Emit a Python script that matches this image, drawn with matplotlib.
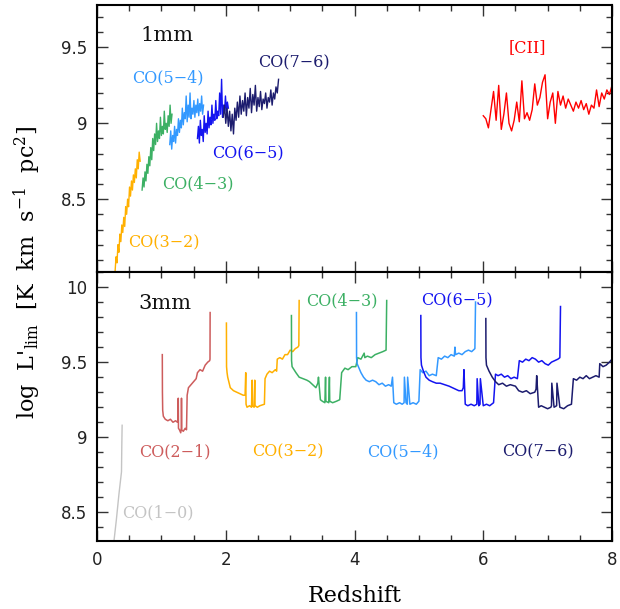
import matplotlib
matplotlib.use("Agg")
import matplotlib.pyplot as plt
from matplotlib.ticker import MultipleLocator, FormatStrFormatter

plt.rcParams['font.family'] = ['DejaVu Serif']
plt.rcParams['mathtext.fontset'] = 'dejavuserif'

# colours per transition
c_co10 = '#c4c4c4'
c_co21 = '#cd5c5c'
c_co32 = '#ffb000'
c_co43 = '#3cb064'
c_co54 = '#3399ff'
c_co65 = '#1414f0'
c_co76 = '#1c1c6e'
c_cii = '#ff0000'

# ---------------- 1mm panel (top) ----------------
mm1_co32_z = [0.28, 0.295, 0.31, 0.325, 0.34, 0.355, 0.37, 0.385, 0.40, 0.415, 0.43, 0.445, 0.46, 0.475,
              0.49, 0.505, 0.52, 0.535, 0.55, 0.565, 0.58, 0.595, 0.61, 0.625, 0.64, 0.655, 0.67]
mm1_co32_L = [8.02, 8.12, 8.08, 8.20, 8.15, 8.27, 8.22, 8.33, 8.28, 8.38, 8.32, 8.45, 8.40, 8.50,
              8.45, 8.58, 8.52, 8.62, 8.56, 8.66, 8.61, 8.70, 8.64, 8.76, 8.70, 8.81, 8.75]

mm1_co43_z = [0.70, 0.715, 0.73, 0.745, 0.76, 0.775, 0.79, 0.805, 0.82, 0.835, 0.85, 0.865, 0.88, 0.895,
              0.91, 0.925, 0.94, 0.955, 0.97, 0.985, 1.00, 1.015, 1.03, 1.045, 1.06, 1.075, 1.09, 1.105,
              1.12, 1.135, 1.15, 1.165]
mm1_co43_L = [8.56, 8.64, 8.58, 8.68, 8.62, 8.73, 8.67, 8.78, 8.72, 8.84, 8.76, 8.90, 8.82, 8.93,
              8.86, 9.00, 8.88, 8.95, 8.90, 9.04, 8.92, 8.98, 8.93, 9.08, 8.96, 9.00, 8.94, 9.05,
              8.98, 9.12, 9.00, 9.06]

mm1_co54_z = [1.13, 1.145, 1.16, 1.175, 1.19, 1.205, 1.22, 1.235, 1.25, 1.265, 1.28, 1.295, 1.31, 1.325,
              1.34, 1.355, 1.37, 1.385, 1.40, 1.415, 1.43, 1.445, 1.46, 1.475, 1.49, 1.505, 1.52, 1.535,
              1.55, 1.565, 1.58, 1.595, 1.61, 1.625, 1.64, 1.655]
mm1_co54_L = [8.86, 8.95, 8.83, 8.92, 8.88, 8.98, 8.87, 8.96, 8.92, 9.03, 8.94, 9.02, 8.97, 9.10,
              8.99, 9.07, 9.03, 9.18, 9.01, 9.12, 9.04, 9.20, 9.03, 9.10, 9.06, 9.15, 9.04, 9.12,
              9.07, 9.16, 9.05, 9.13, 9.08, 9.18, 9.06, 9.12]

mm1_co65_z = [1.56, 1.575, 1.59, 1.605, 1.62, 1.635, 1.65, 1.665, 1.68, 1.695, 1.71, 1.725, 1.74, 1.755,
              1.77, 1.785, 1.80, 1.815, 1.83, 1.845, 1.86, 1.875, 1.89, 1.905, 1.92, 1.935, 1.95, 1.965,
              1.98, 1.995, 2.01, 2.025, 2.04]
mm1_co65_L = [8.90, 8.98, 8.87, 9.02, 8.92, 8.96, 8.88, 9.05, 8.94, 9.00, 8.93, 9.08, 8.97, 9.04,
              8.99, 9.12, 9.00, 9.06, 9.02, 9.15, 9.03, 9.08, 9.05, 9.20, 9.06, 9.29, 9.04, 9.12,
              9.07, 9.18, 9.08, 9.14, 9.10]

mm1_co76_z = [1.96, 1.98, 2.00, 2.02, 2.04, 2.06, 2.08, 2.10, 2.12, 2.14, 2.16, 2.18, 2.20, 2.22, 2.24,
              2.26, 2.28, 2.30, 2.32, 2.34, 2.36, 2.38, 2.40, 2.42, 2.44, 2.46, 2.48, 2.50, 2.52, 2.54,
              2.56, 2.58, 2.60, 2.62, 2.64, 2.66, 2.68, 2.70, 2.72, 2.74, 2.76, 2.78, 2.80, 2.82]
mm1_co76_L = [9.04, 9.12, 9.00, 9.10, 8.98, 9.08, 8.95, 9.06, 8.93, 9.10, 9.02, 9.14, 9.04, 9.18, 9.06,
              9.15, 9.08, 9.20, 9.05, 9.17, 9.10, 9.23, 9.07, 9.19, 9.12, 9.25, 9.08, 9.17, 9.11, 9.21,
              9.09, 9.16, 9.13, 9.20, 9.10, 9.17, 9.14, 9.22, 9.12, 9.20, 9.16, 9.24, 9.20, 9.29]

mm1_cii_z = [6.00, 6.04, 6.08, 6.12, 6.16, 6.20, 6.24, 6.28, 6.32, 6.36, 6.40, 6.44, 6.48, 6.52, 6.56,
             6.60, 6.64, 6.68, 6.72, 6.76, 6.80, 6.84, 6.88, 6.92, 6.96, 7.00, 7.04, 7.08, 7.12, 7.16,
             7.20, 7.24, 7.28, 7.32, 7.36, 7.40, 7.44, 7.48, 7.52, 7.56, 7.60, 7.64, 7.68, 7.72, 7.76,
             7.80, 7.84, 7.88, 7.92, 7.96, 8.00]
mm1_cii_L = [9.05, 9.03, 8.97, 9.09, 9.21, 9.02, 9.25, 8.96, 9.06, 9.20, 9.00, 8.95, 9.02, 9.14, 9.01,
             9.28, 9.03, 9.07, 9.02, 9.09, 9.26, 9.12, 9.17, 9.27, 9.32, 9.03, 9.14, 9.20, 9.00, 9.21,
             9.12, 9.18, 9.10, 9.16, 9.12, 9.08, 9.14, 9.10, 9.15, 9.09, 9.13, 9.06, 9.12, 9.10, 9.22,
             9.11, 9.20, 9.16, 9.22, 9.19, 9.25]

# ---------------- 3mm panel (bottom) ----------------
mm3_co10_z = [0.25, 0.30, 0.34, 0.38, 0.385, 0.39]
mm3_co10_L = [8.26, 8.45, 8.62, 8.77, 8.95, 9.08]

mm3_co21_z = [1.014, 1.016, 1.02, 1.03, 1.06, 1.10, 1.14, 1.18, 1.22, 1.25, 1.26, 1.262, 1.265, 1.28,
              1.30, 1.31, 1.312, 1.315, 1.34, 1.37, 1.39, 1.40, 1.42, 1.46, 1.50, 1.54, 1.56, 1.60,
              1.64, 1.68, 1.72, 1.75, 1.755, 1.757]
mm3_co21_L = [9.55, 9.30, 9.18, 9.14, 9.12, 9.11, 9.12, 9.10, 9.11, 9.10, 9.12, 9.26, 9.06, 9.05,
              9.03, 9.06, 9.26, 9.05, 9.04, 9.06, 9.05, 9.28, 9.33, 9.35, 9.37, 9.39, 9.43, 9.45,
              9.44, 9.48, 9.50, 9.51, 9.52, 9.83]

mm3_co32_z = [2.01, 2.012, 2.02, 2.03, 2.07, 2.12, 2.17, 2.22, 2.27, 2.30, 2.31, 2.315, 2.33, 2.37,
              2.40, 2.41, 2.415, 2.44, 2.45, 2.455, 2.49, 2.53, 2.60, 2.61, 2.64, 2.68, 2.72, 2.77,
              2.79, 2.80, 2.84, 2.88, 2.92, 2.96, 3.00, 3.04, 3.08, 3.12, 3.135, 3.14]
mm3_co32_L = [9.76, 9.47, 9.43, 9.40, 9.33, 9.31, 9.30, 9.29, 9.28, 9.28, 9.43, 9.22, 9.20, 9.21,
              9.20, 9.38, 9.21, 9.20, 9.38, 9.21, 9.20, 9.21, 9.22, 9.39, 9.42, 9.44, 9.43, 9.45,
              9.44, 9.52, 9.53, 9.52, 9.55, 9.55, 9.58, 9.57, 9.59, 9.60, 9.61, 9.91]

mm3_co43_z = [3.02, 3.022, 3.03, 3.06, 3.09, 3.14, 3.20, 3.26, 3.30, 3.35, 3.40, 3.43, 3.44, 3.47,
              3.50, 3.54, 3.55, 3.555, 3.60, 3.61, 3.615, 3.66, 3.72, 3.77, 3.80, 3.85, 3.90, 3.96,
              4.02, 4.05, 4.10, 4.15, 4.16, 4.20, 4.26, 4.32, 4.38, 4.44, 4.49, 4.50]
mm3_co43_L = [9.81, 9.51, 9.47, 9.45, 9.43, 9.40, 9.39, 9.38, 9.37, 9.35, 9.33, 9.36, 9.40, 9.25,
              9.24, 9.23, 9.40, 9.24, 9.23, 9.40, 9.24, 9.23, 9.24, 9.25, 9.43, 9.46, 9.45, 9.47,
              9.47, 9.53, 9.52, 9.56, 9.53, 9.54, 9.53, 9.55, 9.56, 9.57, 9.58, 9.91]

mm3_co54_z = [4.03, 4.032, 4.04, 4.07, 4.10, 4.14, 4.18, 4.23, 4.28, 4.33, 4.38, 4.43, 4.48, 4.53,
              4.57, 4.59, 4.61, 4.65, 4.70, 4.74, 4.77, 4.775, 4.80, 4.82, 4.825, 4.86, 4.91, 4.96,
              5.00, 5.02, 5.06, 5.11, 5.16, 5.21, 5.27, 5.30, 5.35, 5.40, 5.45, 5.50, 5.55, 5.56,
              5.57, 5.62, 5.67, 5.72, 5.77, 5.82, 5.87, 5.88]
mm3_co54_L = [9.83, 9.53, 9.49, 9.46, 9.43, 9.40, 9.38, 9.37, 9.38, 9.37, 9.35, 9.36, 9.34, 9.35,
              9.34, 9.40, 9.23, 9.22, 9.23, 9.22, 9.23, 9.40, 9.23, 9.22, 9.40, 9.22, 9.23, 9.22,
              9.24, 9.45, 9.43, 9.44, 9.41, 9.42, 9.41, 9.53, 9.52, 9.54, 9.53, 9.55, 9.54, 9.60,
              9.55, 9.56, 9.55, 9.57, 9.58, 9.57, 9.59, 9.90]

mm3_co65_z = [5.03, 5.032, 5.04, 5.07, 5.11, 5.16, 5.21, 5.27, 5.33, 5.40, 5.47, 5.52, 5.57, 5.62,
              5.67, 5.69, 5.70, 5.72, 5.76, 5.81, 5.86, 5.90, 5.905, 5.93, 5.95, 5.955, 6.00, 6.05,
              6.10, 6.16, 6.19, 6.23, 6.28, 6.33, 6.38, 6.43, 6.48, 6.53, 6.56, 6.61, 6.66, 6.71,
              6.76, 6.81, 6.86, 6.91, 6.96, 7.01, 7.06, 7.11, 7.16, 7.19, 7.20]
mm3_co65_L = [9.81, 9.53, 9.48, 9.44, 9.40, 9.38, 9.37, 9.36, 9.36, 9.35, 9.34, 9.33, 9.32, 9.31,
              9.31, 9.33, 9.45, 9.22, 9.21, 9.22, 9.21, 9.22, 9.39, 9.21, 9.22, 9.39, 9.21, 9.22,
              9.21, 9.23, 9.42, 9.41, 9.42, 9.40, 9.41, 9.39, 9.40, 9.39, 9.51, 9.50, 9.52, 9.51,
              9.53, 9.52, 9.50, 9.51, 9.49, 9.48, 9.50, 9.51, 9.52, 9.53, 9.87]

mm3_co76_z = [6.04, 6.042, 6.05, 6.09, 6.14, 6.19, 6.24, 6.30, 6.36, 6.42, 6.50, 6.55, 6.61, 6.67,
              6.73, 6.80, 6.82, 6.83, 6.86, 6.90, 6.95, 7.00, 7.05, 7.06, 7.065, 7.10, 7.14, 7.145,
              7.19, 7.25, 7.31, 7.37, 7.40, 7.45, 7.50, 7.55, 7.60, 7.65, 7.70, 7.75, 7.80, 7.81,
              7.86, 7.91, 7.96, 8.00]
mm3_co76_L = [9.79, 9.53, 9.48, 9.44, 9.40, 9.37, 9.35, 9.36, 9.34, 9.35, 9.34, 9.31, 9.30, 9.31,
              9.29, 9.30, 9.32, 9.41, 9.20, 9.21, 9.20, 9.19, 9.20, 9.21, 9.36, 9.20, 9.21, 9.36,
              9.20, 9.19, 9.21, 9.22, 9.39, 9.38, 9.40, 9.39, 9.41, 9.39, 9.40, 9.41, 9.40, 9.49,
              9.47, 9.48, 9.50, 9.52]


def style_axes(ax, ymin, ymax):
    ax.set_xlim(0, 8)
    ax.set_ylim(ymin, ymax)
    ax.xaxis.set_major_locator(MultipleLocator(2))
    ax.xaxis.set_minor_locator(MultipleLocator(0.5))
    ax.yaxis.set_major_locator(MultipleLocator(0.5))
    ax.yaxis.set_minor_locator(MultipleLocator(0.1))
    ax.yaxis.set_major_formatter(FormatStrFormatter('%g'))
    ax.tick_params(which='both', direction='in', top=True, right=True, width=1.0, color='#333333')
    ax.tick_params(which='major', length=8, labelsize=12, pad=7)
    ax.tick_params(which='minor', length=4)
    for lbl in ax.get_yticklabels() + ax.get_xticklabels():
        lbl.set_family('DejaVu Sans')
        lbl.set_color('#222222')
    for sp in ax.spines.values():
        sp.set_linewidth(1.5)


fig = plt.figure(figsize=(6.2, 6.09), dpi=100)
ax1 = fig.add_axes([0.1565, 0.5534, 0.8306, 0.4384])
ax2 = fig.add_axes([0.1565, 0.1117, 0.8306, 0.4417])

# top panel: 1mm
ax1.plot(mm1_co32_z, mm1_co32_L, color=c_co32, lw=1.0)
ax1.plot(mm1_co43_z, mm1_co43_L, color=c_co43, lw=1.0)
ax1.plot(mm1_co54_z, mm1_co54_L, color=c_co54, lw=1.0)
ax1.plot(mm1_co65_z, mm1_co65_L, color=c_co65, lw=1.0)
ax1.plot(mm1_co76_z, mm1_co76_L, color=c_co76, lw=1.0)
ax1.plot(mm1_cii_z, mm1_cii_L, color=c_cii, lw=1.0)
style_axes(ax1, 8.02, 9.78)
ax1.tick_params(labelbottom=False)

lab = dict(ha='center', va='center', fontsize=11.5)
ax1.text(1.08, 9.58, '1mm', ha='center', va='center', fontsize=15, color='#111111')
ax1.text(1.10, 9.30, 'CO(5\u22124)', color=c_co54, **lab)
ax1.text(3.06, 9.40, 'CO(7\u22126)', color=c_co76, **lab)
ax1.text(2.34, 8.80, 'CO(6\u22125)', color=c_co65, **lab)
ax1.text(1.57, 8.60, 'CO(4\u22123)', color=c_co43, **lab)
ax1.text(1.04, 8.21, 'CO(3\u22122)', color=c_co32, **lab)
ax1.text(6.69, 9.50, '[CII]', color=c_cii, **lab)

# bottom panel: 3mm
ax2.plot(mm3_co10_z, mm3_co10_L, color=c_co10, lw=1.0)
ax2.plot(mm3_co21_z, mm3_co21_L, color=c_co21, lw=1.1)
ax2.plot(mm3_co32_z, mm3_co32_L, color=c_co32, lw=1.1)
ax2.plot(mm3_co43_z, mm3_co43_L, color=c_co43, lw=1.1)
ax2.plot(mm3_co54_z, mm3_co54_L, color=c_co54, lw=1.1)
ax2.plot(mm3_co65_z, mm3_co65_L, color=c_co65, lw=1.1)
ax2.plot(mm3_co76_z, mm3_co76_L, color=c_co76, lw=1.1)
style_axes(ax2, 8.31, 10.1)

ax2.text(1.06, 9.89, '3mm', ha='center', va='center', fontsize=15, color='#111111')
ax2.text(3.80, 9.91, 'CO(4\u22123)', color=c_co43, **lab)
ax2.text(5.59, 9.91, 'CO(6\u22125)', color=c_co65, **lab)
ax2.text(1.21, 8.90, 'CO(2\u22121)', color=c_co21, **lab)
ax2.text(2.97, 8.90, 'CO(3\u22122)', color=c_co32, **lab)
ax2.text(4.75, 8.90, 'CO(5\u22124)', color=c_co54, **lab)
ax2.text(6.85, 8.90, 'CO(7\u22126)', color=c_co76, **lab)
ax2.text(0.95, 8.50, 'CO(1\u22120)', color=c_co10, **lab)

ax2.set_xlabel('Redshift', fontsize=16, labelpad=12)
fig.text(0.044, 0.553, r"log  L$'_{\rm lim}$  [K  km  s$^{-1}$  pc$^{2}$]",
         rotation=90, ha='center', va='center', fontsize=16)

fig.savefig('out.png', dpi=100)
